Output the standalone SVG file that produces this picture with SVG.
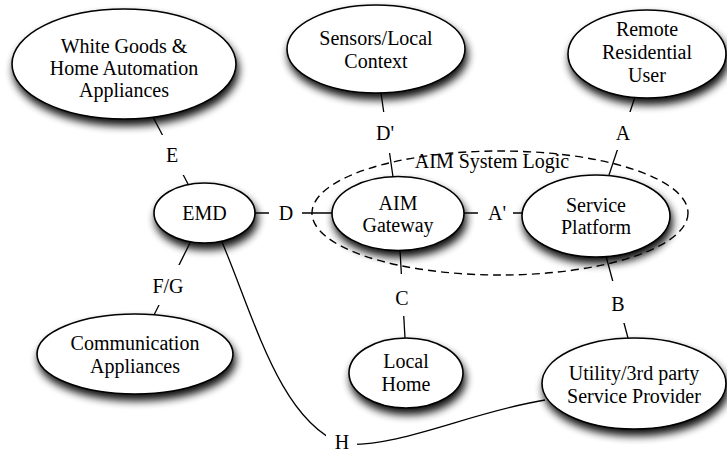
<svg xmlns="http://www.w3.org/2000/svg" width="727" height="453" viewBox="0 0 727 453">
<defs>
<filter id="sh" x="-20%" y="-20%" width="140%" height="160%">
<feGaussianBlur in="SourceAlpha" stdDeviation="4"/>
<feOffset dx="2" dy="6" result="b"/>
<feComponentTransfer><feFuncA type="linear" slope="0.95"/></feComponentTransfer>
<feMerge><feMergeNode/><feMergeNode in="SourceGraphic"/></feMerge>
</filter>
</defs>
<style>
.node{fill:#fff;stroke:#000;stroke-width:1.6;filter:url(#sh)}
.t{font-family:'Liberation Serif','Times New Roman',serif;font-size:20px;fill:#000;text-anchor:middle}
.c{fill:none;stroke:#000;stroke-width:1.3}
.lb{fill:#fff;stroke:none}
.sys{fill:none;stroke:#000;stroke-width:1.4;stroke-dasharray:8 5}
</style>
<rect width="727" height="453" fill="#fff"/>

<g id="system-logic">
<ellipse class="sys" cx="500" cy="213" rx="188" ry="62"/>
<text class="t" x="492" y="168">AIM System Logic</text>
</g>

<g id="white-goods">
<ellipse class="node" cx="124" cy="64" rx="112" ry="55"/>
<text class="t" x="124" y="53">White Goods &amp;</text>
<text class="t" x="124" y="75">Home Automation</text>
<text class="t" x="124" y="97">Appliances</text>
</g>
<g id="sensors">
<ellipse class="node" cx="376" cy="49" rx="89" ry="44"/>
<text class="t" x="376" y="45">Sensors/Local</text>
<text class="t" x="376" y="68">Context</text>
</g>
<g id="remote-user">
<ellipse class="node" cx="647" cy="54" rx="79" ry="44"/>
<text class="t" x="647" y="36">Remote</text>
<text class="t" x="647" y="59">Residential</text>
<text class="t" x="647" y="82">User</text>
</g>
<g id="emd">
<ellipse class="node" cx="204.5" cy="213" rx="50.5" ry="30"/>
<text class="t" x="204.5" y="220">EMD</text>
</g>
<g id="aim-gateway">
<ellipse class="node" cx="398" cy="213.5" rx="66" ry="37"/>
<text class="t" x="398" y="210">AIM</text>
<text class="t" x="398" y="232">Gateway</text>
</g>
<g id="service-platform">
<ellipse class="node" cx="596" cy="216" rx="74" ry="41"/>
<text class="t" x="596" y="212">Service</text>
<text class="t" x="596" y="234">Platform</text>
</g>
<g id="communication">
<ellipse class="node" cx="135" cy="354" rx="98" ry="40"/>
<text class="t" x="135" y="350">Communication</text>
<text class="t" x="135" y="373">Appliances</text>
</g>
<g id="local-home">
<ellipse class="node" cx="406" cy="373" rx="57" ry="35"/>
<text class="t" x="406" y="368">Local</text>
<text class="t" x="406" y="391">Home</text>
</g>
<g id="utility">
<ellipse class="node" cx="634" cy="383.5" rx="92" ry="45.5"/>
<text class="t" x="634" y="380">Utility/3rd party</text>
<text class="t" x="634" y="403">Service Provider</text>
</g>

<g id="connectors">
<path class="c" d="M153,117 L188,184"/>
<path class="c" d="M255,213 L332,213"/>
<path class="c" d="M381,93 L393,177"/>
<path class="c" d="M635,97 L609,175"/>
<path class="c" d="M464,213 L522,213"/>
<path class="c" d="M400,250 L405,338"/>
<path class="c" d="M606,256 L628,338"/>
<path class="c" d="M190,243 L154,315"/>
<path class="c" d="M222,242 C255,320 280,420 342,444 C400,448 470,412 545,400"/>
</g>

<g id="labels">
<rect class="lb" x="156" y="135" width="32" height="40"/>
<text class="t" x="172" y="162">E</text>
<rect class="lb" x="269" y="193" width="33" height="40"/>
<text class="t" x="286" y="220">D</text>
<rect class="lb" x="368" y="112" width="34" height="41"/>
<text class="t" x="385" y="140">D'</text>
<rect class="lb" x="606" y="112" width="34" height="38"/>
<text class="t" x="623" y="140">A</text>
<rect class="lb" x="478" y="193" width="35" height="40"/>
<text class="t" x="497" y="220">A'</text>
<rect class="lb" x="386" y="274" width="32" height="42"/>
<text class="t" x="402" y="305">C</text>
<rect class="lb" x="602" y="281" width="32" height="42"/>
<text class="t" x="618" y="311">B</text>
<rect class="lb" x="148" y="265" width="40" height="40"/>
<text class="t" x="168" y="293">F/G</text>
<rect class="lb" x="326" y="424" width="31" height="29"/>
<text class="t" x="342" y="449">H</text>
</g>
</svg>
